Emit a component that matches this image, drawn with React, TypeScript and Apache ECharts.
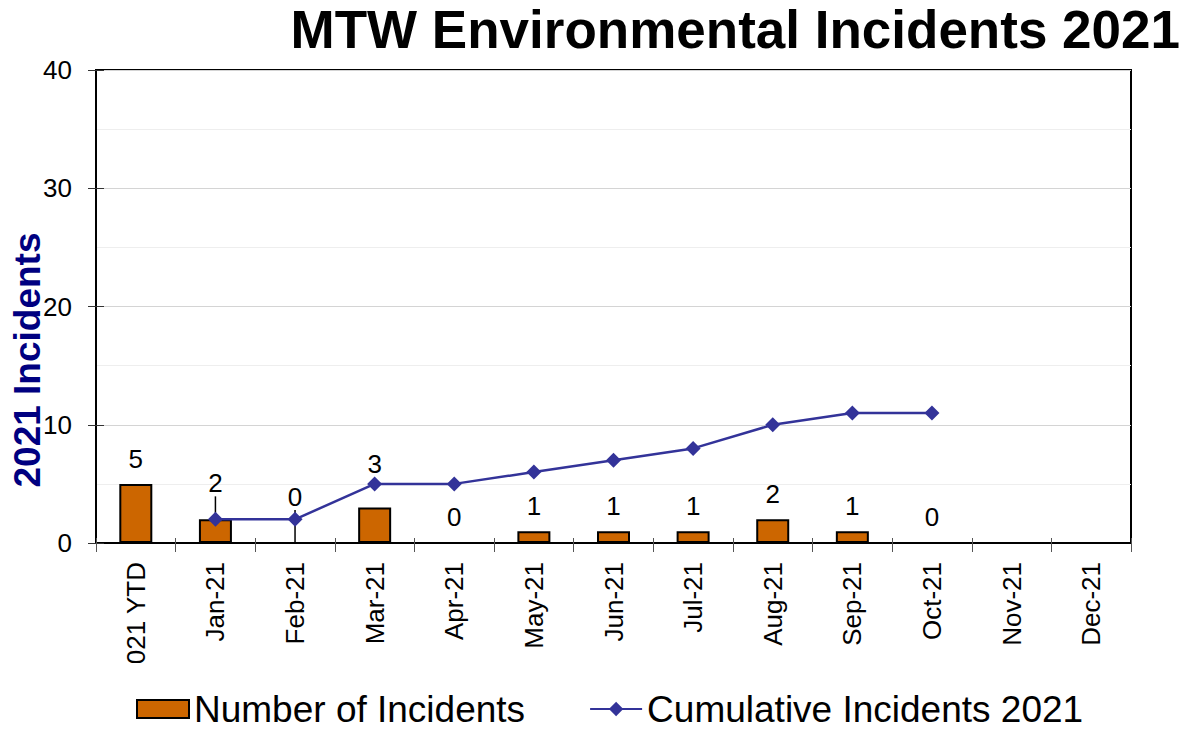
import React, { useEffect, useRef } from "react";
import * as echarts from "echarts";

const categories = [
  "2021 YTD", "Jan-21", "Feb-21", "Mar-21", "Apr-21", "May-21", "Jun-21",
  "Jul-21", "Aug-21", "Sep-21", "Oct-21", "Nov-21", "Dec-21",
];
const incidents = [5, 2, 0, 3, 0, 1, 1, 1, 2, 1, 0, null, null];
const cumulative = [null, 2, 2, 5, 5, 6, 7, 8, 10, 11, 11, null, null];
const yTicks = [0, 10, 20, 30, 40];

const FONT = "Arial, 'Liberation Sans', Helvetica, sans-serif";

export default function App() {
  const ref = useRef<HTMLDivElement>(null);
  useEffect(() => {
    if (!ref.current) return;
    const chart = echarts.init(ref.current, undefined, { renderer: "svg" });
    const labelShift: Record<number, number> = { 1: -11, 2: -20, 3: -19 };
    const barData = incidents.map((v, i) =>
      i === 1 || i === 2
        ? { value: v, labelLine: { show: true, lineStyle: { color: "#000", width: 1.5 } } }
        : { value: v }
    );
    chart.setOption({
      animation: false,
      backgroundColor: "#fff",
      textStyle: { fontFamily: FONT },
      title: {
        text: "MTW Environmental Incidents 2021",
        right: 4,
        top: 3,
        padding: 0,
        textStyle: { fontSize: 53, fontWeight: "bold", color: "#000", fontFamily: FONT },
      },
      graphic: [
        {
          type: "text",
          x: 27,
          y: 360,
          rotation: Math.PI / 2,
          style: {
            text: "2021 Incidents",
            fill: "#000080",
            font: `bold 37px ${FONT}`,
            textAlign: "center",
            textVerticalAlign: "middle",
          },
        },
        {
          type: "rect",
          shape: { x: 110, y: 663, width: 55, height: 22 },
          style: { fill: "#fff" },
          z: 100,
        },
      ],
      legend: {
        left: 136,
        top: 690,
        padding: 0,
        itemWidth: 52,
        itemHeight: 18,
        itemGap: 64,
        textStyle: { fontSize: 37, lineHeight: 38, color: "#000", fontFamily: FONT },
        data: [
          { name: "Number of Incidents", icon: "rect" },
          { name: "Cumulative Incidents 2021" },
        ],
      },
      grid: {
        left: 96,
        right: 53,
        top: 70,
        bottom: 187,
        show: true,
        borderColor: "#000",
        borderWidth: 2,
        backgroundColor: "transparent",
      },
      xAxis: [
        {
          type: "category",
          data: categories,
          boundaryGap: true,
          axisLine: { show: true, lineStyle: { color: "#000", width: 2 } },
          axisTick: { show: true, length: 9, lineStyle: { color: "#555", width: 1 } },
          axisLabel: { rotate: 90, fontSize: 26, color: "#000", margin: 19, fontFamily: FONT },
          splitLine: { show: false },
        },
        {
          type: "category",
          data: categories,
          position: "bottom",
          boundaryGap: true,
          axisLine: { show: false },
          axisTick: { show: true, inside: true, length: 5, lineStyle: { color: "#555", width: 1 } },
          axisLabel: { show: false },
          splitLine: { show: false },
        },
      ],
      yAxis: [
        {
          type: "value",
          min: yTicks[0],
          max: yTicks[yTicks.length - 1],
          interval: 10,
          axisLine: { show: true, lineStyle: { color: "#000", width: 2 } },
          axisTick: { show: true, length: 8, lineStyle: { color: "#333", width: 1 } },
          axisLabel: { fontSize: 26, color: "#000", margin: 24, fontFamily: FONT },
          splitLine: { show: true, lineStyle: { color: "#d4d4d4", width: 1 } },
          minorTick: { show: false, splitNumber: 2 },
          minorSplitLine: { show: true, lineStyle: { color: "#eeeeee", width: 1 } },
        },
        {
          type: "value",
          position: "left",
          min: yTicks[0],
          max: yTicks[yTicks.length - 1],
          interval: 10,
          axisLine: { show: false },
          axisTick: { show: true, inside: true, length: 8, lineStyle: { color: "#333", width: 1 } },
          axisLabel: { show: false },
          splitLine: { show: false },
        },
      ],
      series: [
        {
          name: "Number of Incidents",
          type: "bar",
          data: barData,
          barWidth: 33,
          itemStyle: { color: "#CC6600", borderColor: "#000", borderWidth: 2 },
          label: {
            show: true,
            position: "top",
            distance: 12,
            fontSize: 26,
            color: "#000",
            fontFamily: FONT,
          },
          labelLayout: (params: any) =>
            labelShift[params.dataIndex] ? { dy: labelShift[params.dataIndex] } : {},
          z: 2,
        },
        {
          name: "Cumulative Incidents 2021",
          type: "line",
          data: cumulative,
          symbol: "diamond",
          symbolSize: 15,
          lineStyle: { color: "#333399", width: 2.5 },
          itemStyle: { color: "#333399" },
          z: 3,
        },
      ],
    });
    return () => chart.dispose();
  }, []);
  return (
    <div
      ref={ref}
      style={{ position: "absolute", left: 0, top: 0, width: 1184, height: 730 }}
    />
  );
}
